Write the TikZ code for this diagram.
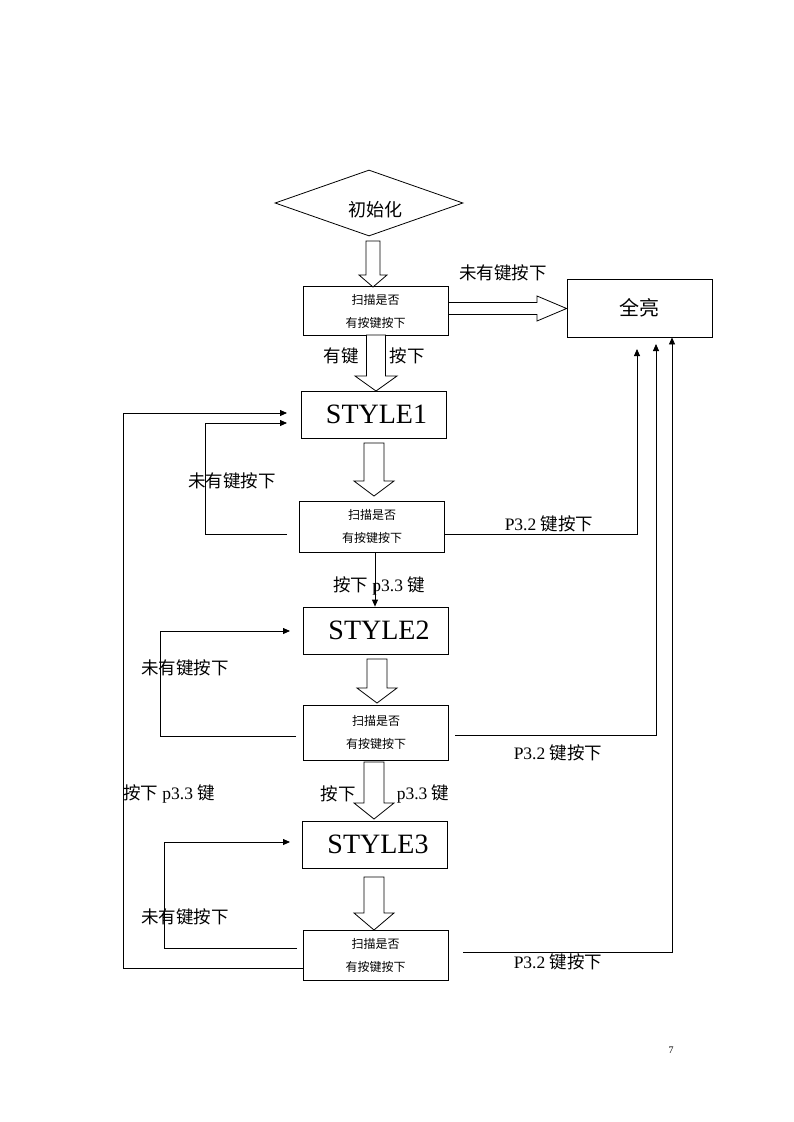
\documentclass[tikz,border=0pt]{standalone}
\usepackage{fontspec}
\setmainfont{Liberation Serif}
\newfontfamily\cjk{Noto Sans CJK SC}
\usetikzlibrary{shapes.geometric,arrows.meta}
\newcommand{\blkdown}[6]{% cx, ytop, yhead, ytip, shaft half, head half
  \draw[blk] (#1-#5,#2) -- (#1+#5,#2) -- (#1+#5,#3) -- (#1+#6,#3) -- (#1,#4) -- (#1-#6,#3) -- (#1-#5,#3) -- cycle;}
\begin{document}
\begin{tikzpicture}[x=1pt,y=-1pt,
  box/.style={draw, line width=0.8pt, rectangle, inner sep=0pt, align=center},
  scanbox/.style={box, minimum width=145pt, minimum height=49pt, font=\fontsize{12}{23}\selectfont\cjk},
  stylebox/.style={box, minimum width=145pt, minimum height=47pt, font=\fontsize{28}{30}\selectfont},
  lbl/.style={inner sep=0pt, font=\fontsize{17.5}{20}\selectfont},
  conn/.style={line width=0.8pt},
  tip/.style={-{Triangle[length=7pt,width=6pt]}},
  blk/.style={draw, line width=0.8pt, fill=white, line join=miter}]
\useasboundingbox (0,0) rectangle (793,1122);

% nodes
\node[draw, line width=0.8pt, diamond, inner sep=0pt, minimum width=188pt, minimum height=66pt] (init) at (369,203) {};
\node[inner sep=0pt, font=\fontsize{18}{20}\selectfont\cjk] (initt) at (375,210) {初始化};
\node[scanbox] (s0) at (375.5,311) {扫描是否\\有按键按下};
\node[box, minimum width=145pt, minimum height=58pt, font=\fontsize{20}{22}\selectfont\cjk] (all) at (639.5,308) {全亮};
\node[stylebox] (st1) at (373.5,414.5) {\hspace{6pt}STYLE1};
\node[scanbox, minimum height=51pt] (s1) at (372,526.5) {扫描是否\\有按键按下};
\node[stylebox] (st2) at (376,630.5) {\hspace{6pt}STYLE2};
\node[scanbox, minimum height=55pt] (s2) at (376,732.5) {扫描是否\\有按键按下};
\node[stylebox] (st3) at (375,844.5) {\hspace{6pt}STYLE3};
\node[scanbox, minimum height=50pt] (s3) at (375.5,955) {扫描是否\\有按键按下};

% coordinates for loop corners
\coordinate (l1a) at (287,534);
\coordinate (l1b) at (287,423);
\coordinate (oa) at (123,968);
\coordinate (ob) at (287,413);
\coordinate (l2a) at (296,736);
\coordinate (l2b) at (290,631);
\coordinate (l3a) at (297,948);
\coordinate (l3b) at (290,842);
\coordinate (r2s) at (455,735);
\coordinate (r3s) at (463,952);

% block arrows
\blkdown{373}{241}{275}{287}{7}{14}
\blkdown{376}{335}{376}{391}{9.5}{21}
\blkdown{374}{443}{481}{496}{10}{20}
\blkdown{377}{659}{688}{703}{10}{20}
\blkdown{374}{762}{803}{819}{10}{20}
\blkdown{374}{877}{913}{930}{10}{20}
\draw[blk] (s0.east |- 0,302.5) -- (537,302.5) -- (537,296) -- (all.west |- 0,308.5) -- (537,321) -- (537,314.5) -- (s0.east |- 0,314.5) -- cycle;

% loops
\draw[conn,tip] (l1a) -- (205,534) -- (205,423) -- (l1b);
\draw[conn,tip] (s3.west |- oa) -- (oa) -- (123,413) -- (ob);
\draw[conn,tip] (l2a) -- (160,736) -- (160,631) -- (l2b);
\draw[conn,tip] (l3a) -- (164,948) -- (164,842) -- (l3b);

% to all-on
\draw[conn,tip] (s1.east |- 0,534) -- (637,534) -- (637,349);
\draw[conn,tip] (r2s) -- (656,735) -- (656,344);
\draw[conn,tip] (r3s) -- (672,952) -- (all.south -| 672,0);

% thin arrow
\draw[conn,tip] (s1.south -| 375,0) -- (st2.north -| 375,0);

% labels
\node[lbl] at (503,273) {\cjk 未有键按下};
\node[lbl] at (341,356) {\cjk 有键};
\node[lbl] at (407,356) {\cjk 按下};
\node[lbl] at (232,481) {\cjk 未有键按下};
\node[lbl] at (549,524) {P3.2 {\cjk 键按下}};
\node[lbl] at (379,586) {{\cjk 按下} p3.3 {\cjk 键}};
\node[lbl] at (185,668) {\cjk 未有键按下};
\node[lbl] at (558,753) {P3.2 {\cjk 键按下}};
\node[lbl] at (169,794) {{\cjk 按下} p3.3 {\cjk 键}};
\node[lbl] at (338,794) {\cjk 按下};
\node[lbl] at (423,794) {p3.3 {\cjk 键}};
\node[lbl] at (185,917) {\cjk 未有键按下};
\node[lbl] at (558,962) {P3.2 {\cjk 键按下}};
\node[inner sep=0pt, font=\fontsize{10}{12}\selectfont] (pg) at (671,1050) {7};
\end{tikzpicture}
\end{document}
